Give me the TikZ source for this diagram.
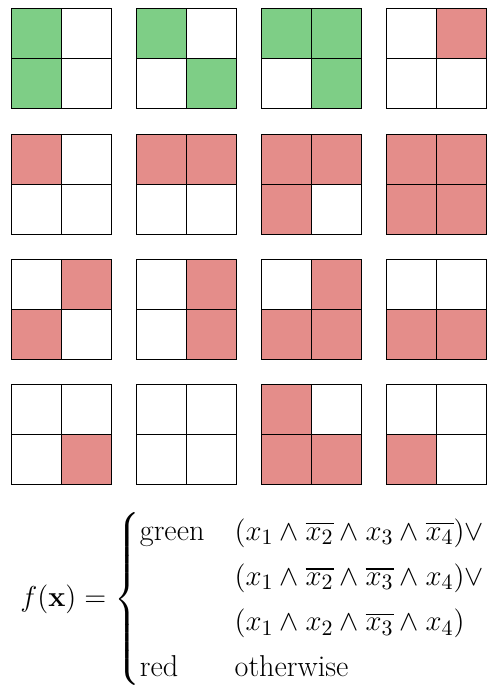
\documentclass[tikz,border=0pt]{standalone}
\usepackage{amsmath}
\definecolor{gc}{RGB}{126,206,134}
\definecolor{rc}{RGB}{228,141,138}
\colorlet{wc}{white}
\newcommand{\cellsq}[6]{%
  \fill[#3] (#1,#2) rectangle ++(50,50);
  \fill[#4] (#1+50,#2) rectangle ++(50,50);
  \fill[#5] (#1,#2+50) rectangle ++(50,50);
  \fill[#6] (#1+50,#2+50) rectangle ++(50,50);
  \draw[gridline] (#1,#2) rectangle ++(100,100);
  \draw[gridline] (#1+50,#2) -- ++(0,100);
  \draw[gridline] (#1,#2+50) -- ++(100,0);
}
\begin{document}
\begin{tikzpicture}[x=0.5pt,y=-0.5pt,
  gridline/.style={draw=black,line width=0.5pt},
  formula/.style={anchor=west,inner sep=0pt,font=\fontsize{15.1}{18.9}\selectfont}]
\useasboundingbox (0,0) rectangle (500,690);
% row 1
\cellsq{11}{9}{gc}{wc}{gc}{wc}
\cellsq{136}{9}{gc}{wc}{wc}{gc}
\cellsq{261}{9}{gc}{gc}{wc}{gc}
\cellsq{386}{9}{wc}{rc}{wc}{wc}
% row 2
\cellsq{11}{134}{rc}{wc}{wc}{wc}
\cellsq{136}{134}{rc}{rc}{wc}{wc}
\cellsq{261}{134}{rc}{rc}{rc}{wc}
\cellsq{386}{134}{rc}{rc}{rc}{rc}
% row 3
\cellsq{11}{259}{wc}{rc}{rc}{wc}
\cellsq{136}{259}{wc}{rc}{wc}{rc}
\cellsq{261}{259}{wc}{rc}{rc}{rc}
\cellsq{386}{259}{wc}{wc}{rc}{rc}
% row 4
\cellsq{11}{384}{wc}{wc}{wc}{rc}
\cellsq{136}{384}{wc}{wc}{wc}{wc}
\cellsq{261}{384}{rc}{wc}{rc}{rc}
\cellsq{386}{384}{wc}{wc}{rc}{wc}
% formula
\node[formula] (f) at (20,599) {$f(\mathbf{x}) = \begin{cases}
\text{green} & (x_1 \wedge \overline{x_2} \wedge x_3 \wedge \overline{x_4})\vee \\
 & (x_1 \wedge \overline{x_2} \wedge \overline{x_3} \wedge x_4)\vee \\
 & (x_1 \wedge x_2 \wedge \overline{x_3} \wedge x_4) \\
\text{red} & \text{otherwise}
\end{cases}$};
\end{tikzpicture}
\end{document}
